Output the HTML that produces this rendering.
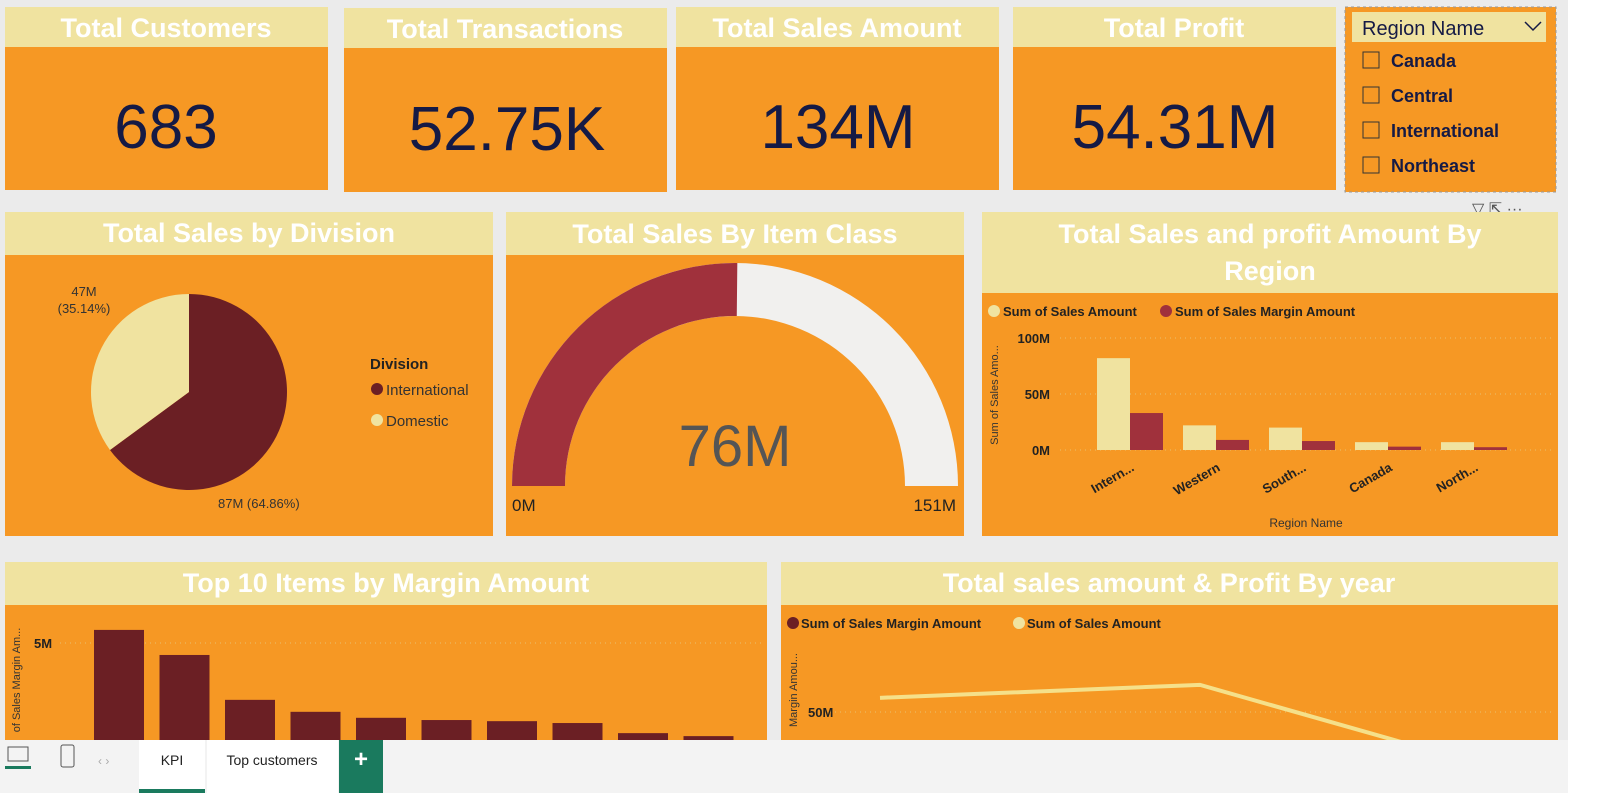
<!DOCTYPE html>
<html><head><meta charset="utf-8"><style>
body{margin:0;width:1600px;height:793px;overflow:hidden;background:#ebebeb;font-family:"Liberation Sans",sans-serif}
svg{display:block}
</style></head><body>
<svg width="1600" height="793" viewBox="0 0 1600 793" font-family="Liberation Sans, sans-serif">
<rect x="1568" y="0" width="32" height="793" fill="#ffffff"/>
<g>
 <g>
  <rect x="5" y="7" width="323" height="183" fill="#f69824"/><rect x="5" y="7" width="323" height="40" fill="#f0e3a0"/>
  <text x="166" y="37" text-anchor="middle" font-size="27" font-weight="bold" fill="#fff">Total Customers</text>
  <text x="166" y="148" text-anchor="middle" font-size="62" fill="#151a45">683</text></g>
 <g>
  <rect x="344" y="8" width="323" height="184" fill="#f69824"/><rect x="344" y="8" width="323" height="40" fill="#f0e3a0"/>
  <text x="505" y="38" text-anchor="middle" font-size="27" font-weight="bold" fill="#fff">Total Transactions</text>
  <text x="507" y="150" text-anchor="middle" font-size="62" fill="#151a45">52.75K</text></g>
 <g>
  <rect x="676" y="7" width="323" height="183" fill="#f69824"/><rect x="676" y="7" width="323" height="40" fill="#f0e3a0"/>
  <text x="837" y="37" text-anchor="middle" font-size="27" font-weight="bold" fill="#fff">Total Sales Amount</text>
  <text x="838" y="148" text-anchor="middle" font-size="62" fill="#151a45">134M</text></g>
 <g>
  <rect x="1013" y="7" width="323" height="183" fill="#f69824"/><rect x="1013" y="7" width="323" height="40" fill="#f0e3a0"/>
  <text x="1174" y="37" text-anchor="middle" font-size="27" font-weight="bold" fill="#fff">Total Profit</text>
  <text x="1175" y="148" text-anchor="middle" font-size="62" fill="#151a45">54.31M</text></g>
</g>
<g>
 <rect x="1345" y="7" width="211" height="185" fill="#f69824" stroke="#999" stroke-dasharray="3 3"/>
 <rect x="1352" y="12" width="194" height="30" fill="#f0e3a0"/>
 <text x="1362" y="35" font-size="20" fill="#151a45">Region Name</text>
 <path d="M1525 22 l8 8 l8 -8" stroke="#151a45" fill="none" stroke-width="1.5"/>
 <g font-size="18" font-weight="bold" fill="#151a45">
  <rect x="1363" y="52" width="16" height="16" fill="none" stroke="#333"/><text x="1391" y="67">Canada</text>
  <rect x="1363" y="87" width="16" height="16" fill="none" stroke="#333"/><text x="1391" y="102">Central</text>
  <rect x="1363" y="122" width="16" height="16" fill="none" stroke="#333"/><text x="1391" y="137">International</text>
  <rect x="1363" y="157" width="16" height="16" fill="none" stroke="#333"/><text x="1391" y="172">Northeast</text>
 </g>
 <text x="1472" y="214" font-size="16" fill="#555">▽ ⇱ ···</text>
</g>
<g>
 <rect x="5" y="212" width="488" height="324" fill="#f69824"/><rect x="5" y="212" width="488" height="43" fill="#f0e3a0"/>
 <text x="249" y="242" text-anchor="middle" font-size="27" font-weight="bold" fill="#fff">Total Sales by Division</text>
 <g id="pie"></g>
 <text x="84" y="296" text-anchor="middle" font-size="13" fill="#333">47M</text>
 <text x="84" y="313" text-anchor="middle" font-size="13" fill="#333">(35.14%)</text>
 <text x="218" y="508" font-size="13" fill="#333">87M (64.86%)</text>
 <text x="370" y="369" font-size="15" font-weight="bold" fill="#222">Division</text>
 <circle cx="377" cy="389" r="6" fill="#6b1f24"/><text x="386" y="395" font-size="15" fill="#333">International</text>
 <circle cx="377" cy="420" r="6" fill="#f0e3a0"/><text x="386" y="426" font-size="15" fill="#333">Domestic</text>
</g>
<g>
 <rect x="506" y="212" width="458" height="324" fill="#f69824"/><rect x="506" y="212" width="458" height="43" fill="#f0e3a0"/>
 <text x="735" y="243" text-anchor="middle" font-size="27" font-weight="bold" fill="#fff">Total Sales By Item Class</text>
 <g id="gauge"></g>
 <text x="735" y="466" text-anchor="middle" font-size="58" fill="#555">76M</text>
 <text x="512" y="511" font-size="17" fill="#222">0M</text>
 <text x="956" y="511" text-anchor="end" font-size="17" fill="#222">151M</text>
</g>
<g>
 <rect x="982" y="212" width="576" height="324" fill="#f69824"/><rect x="982" y="212" width="576" height="81" fill="#f0e3a0"/>
 <text x="1270" y="243" text-anchor="middle" font-size="27" font-weight="bold" fill="#fff">Total Sales and profit Amount By</text>
 <text x="1270" y="280" text-anchor="middle" font-size="27" font-weight="bold" fill="#fff">Region</text>
 <circle cx="994" cy="311" r="6" fill="#f0e3a0"/><text x="1003" y="316" font-size="13" font-weight="bold" fill="#222">Sum of Sales Amount</text>
 <circle cx="1166" cy="311" r="6" fill="#a0313c"/><text x="1175" y="316" font-size="13" font-weight="bold" fill="#222">Sum of Sales Margin Amount</text>
 <text transform="translate(998,395) rotate(-90)" text-anchor="middle" font-size="11" fill="#333">Sum of Sales Amo...</text>
 <text x="1306" y="527" text-anchor="middle" font-size="12" fill="#333">Region Name</text>
 <g id="regionChart"></g>
</g>
<g>
 <rect x="5" y="562" width="762" height="178" fill="#f69824"/><rect x="5" y="562" width="762" height="43" fill="#f0e3a0"/>
 <text x="386" y="592" text-anchor="middle" font-size="27" font-weight="bold" fill="#fff">Top 10 Items by Margin Amount</text>
 <text transform="translate(20,680) rotate(-90)" text-anchor="middle" font-size="11" fill="#333">of Sales Margin Am...</text>
 <g id="topChart"></g>
</g>
<g>
 <rect x="781" y="562" width="777" height="178" fill="#f69824"/><rect x="781" y="562" width="777" height="43" fill="#f0e3a0"/>
 <text x="1169" y="592" text-anchor="middle" font-size="27" font-weight="bold" fill="#fff">Total sales amount &amp; Profit By year</text>
 <circle cx="793" cy="623" r="6" fill="#6b1f24"/><text x="801" y="628" font-size="13" font-weight="bold" fill="#222">Sum of Sales Margin Amount</text>
 <circle cx="1019" cy="623" r="6" fill="#f0e3a0"/><text x="1027" y="628" font-size="13" font-weight="bold" fill="#222">Sum of Sales Amount</text>
 <text transform="translate(797,690) rotate(-90)" text-anchor="middle" font-size="11" fill="#333">Margin Amou...</text>
 <g id="yearChart"></g>
</g>
<g>
 <rect x="0" y="740" width="1568" height="53" fill="#f3f3f3"/>
 <rect x="8" y="747" width="20" height="14" fill="none" stroke="#555"/><rect x="5" y="766" width="26" height="3" fill="#1a7a5e"/>
 <rect x="61" y="745" width="13" height="22" rx="2" fill="none" stroke="#555"/>
 <text x="98" y="765" font-size="12" fill="#aaa">‹  ›</text>
 <rect x="139" y="740" width="66" height="53" fill="#fff"/>
 <rect x="139" y="789" width="66" height="4" fill="#1a7a5e"/>
 <text x="172" y="765" text-anchor="middle" font-size="14" fill="#222">KPI</text>
 <rect x="207" y="740" width="131" height="53" fill="#fff"/>
 <text x="272" y="765" text-anchor="middle" font-size="14" fill="#222">Top customers</text>
 <rect x="339" y="740" width="44" height="53" fill="#1a7a5e"/>
 <text x="361" y="767" text-anchor="middle" font-size="24" font-weight="bold" fill="#fff">+</text>
</g>
</svg>
<script>
const NS='http://www.w3.org/2000/svg';
function mk(parent,tag,attrs){const e=document.createElementNS(NS,tag);for(const k in attrs)e.setAttribute(k,attrs[k]);parent.appendChild(e);return e;}
// pie data
const divisions=['International','Domestic'];
const divisionValues=[87,47];
const divisionColors=['#6b1f24','#f0e3a0'];
// gauge data
const gaugeValue=76, gaugeMax=151;
// region chart data
const regions=['Intern...','Western','South...','Canada','North...'];
const regionSales=[82,22,20,7,7];
const regionMargin=[33,9,8,3,2.5];
const regionTicks=[0,50,100];
// top items data
const itemValues=[5.35,4.68,3.48,3.16,3.0,2.94,2.91,2.86,2.59,2.51];
const itemTicks=[5];
// year data
const years=['2017','2018','2019'];
const yearSales=[56,61.5,23];
const yearTicks=[50];

// pie
(function(){const g=document.getElementById('pie');const cx=189,cy=392,r=98;const tot=divisionValues.reduce((a,b)=>a+b,0);
let a=-Math.PI/2;
divisionValues.forEach((v,i)=>{const s=v/tot*2*Math.PI;const a2=a+s;
const x1=cx+r*Math.cos(a),y1=cy+r*Math.sin(a),x2=cx+r*Math.cos(a2),y2=cy+r*Math.sin(a2);
const p=mk(g,'path',{d:`M${cx} ${cy} L${x1} ${y1} A${r} ${r} 0 ${s>Math.PI?1:0} 1 ${x2} ${y2} Z`,fill:divisionColors[i]});


a=a2;});})();
// gauge
(function(){const g=document.getElementById('gauge');const cx=735,cy=486,R=223,r=170;
function arc(f0,f1,col,name){const a0=Math.PI+f0*Math.PI,a1=Math.PI+f1*Math.PI;
const d=`M${cx+R*Math.cos(a0)} ${cy+R*Math.sin(a0)} A${R} ${R} 0 0 1 ${cx+R*Math.cos(a1)} ${cy+R*Math.sin(a1)} L${cx+r*Math.cos(a1)} ${cy+r*Math.sin(a1)} A${r} ${r} 0 0 0 ${cx+r*Math.cos(a0)} ${cy+r*Math.sin(a0)} Z`;
const p=mk(g,'path',{d:d,fill:col});

}
arc(0,1,'#f1f0ee','gauge-track');arc(0,gaugeValue/gaugeMax,'#a0313c','gauge-value');})();
// region chart
(function(){const g=document.getElementById('regionChart');const y0=450,k=1.12;const y=v=>y0-v*k;
const x0=1090,step=86,bw=33;
regionTicks.forEach(t=>{mk(g,'line',{x1:1060,x2:1555,y1:y(t),y2:y(t),stroke:'#e8c070','stroke-dasharray':'1 4'});
const tx=mk(g,'text',{x:1050,y:y(t)+5,'text-anchor':'end','font-size':13,'font-weight':'bold',fill:'#222'});tx.textContent=t+'M';});
regions.forEach((c,i)=>{const x=x0+i*step;
const b1=mk(g,'rect',{x:x+7,y:y(regionSales[i]),width:bw,height:regionSales[i]*k,fill:'#f0e3a0'});


const b2=mk(g,'rect',{x:x+7+bw,y:y(regionMargin[i]),width:bw,height:regionMargin[i]*k,fill:'#a0313c'});


const t=mk(g,'text',{transform:`translate(${x+45},${470}) rotate(-30)`,'text-anchor':'end','font-size':13,'font-weight':'bold',fill:'#222'});t.textContent=c;});})();
// top items
(function(){const g=document.getElementById('topChart');const y0=830,k=37.4;const y=v=>y0-v*k;
itemTicks.forEach(t=>{mk(g,'line',{x1:60,x2:765,y1:y(t),y2:y(t),stroke:'#e8c070','stroke-dasharray':'1 4'});
const tx=mk(g,'text',{x:34,y:y(t)+5,'font-size':13,'font-weight':'bold',fill:'#222'});tx.textContent=t+'M';});
itemValues.forEach((v,i)=>{const b=mk(g,'rect',{x:94+i*65.5,y:y(v),width:50,height:v*k,fill:'#6b1f24'});

});})();
// year chart
(function(){const g=document.getElementById('yearChart');const y0=830,k=2.36;const y=v=>y0-v*k;const x=i=>880+i*320;
yearTicks.forEach(t=>{mk(g,'line',{x1:830,x2:1555,y1:y(t),y2:y(t),stroke:'#e8c070','stroke-dasharray':'1 4'});
const tx=mk(g,'text',{x:808,y:y(t)+5,'font-size':13,'font-weight':'bold',fill:'#222'});tx.textContent=t+'M';});
const l=mk(g,'polyline',{points:yearSales.map((v,i)=>x(i)+','+y(v)).join(' '),fill:'none',stroke:'#f5e08a','stroke-width':4});

})();
</script>
</body></html>
